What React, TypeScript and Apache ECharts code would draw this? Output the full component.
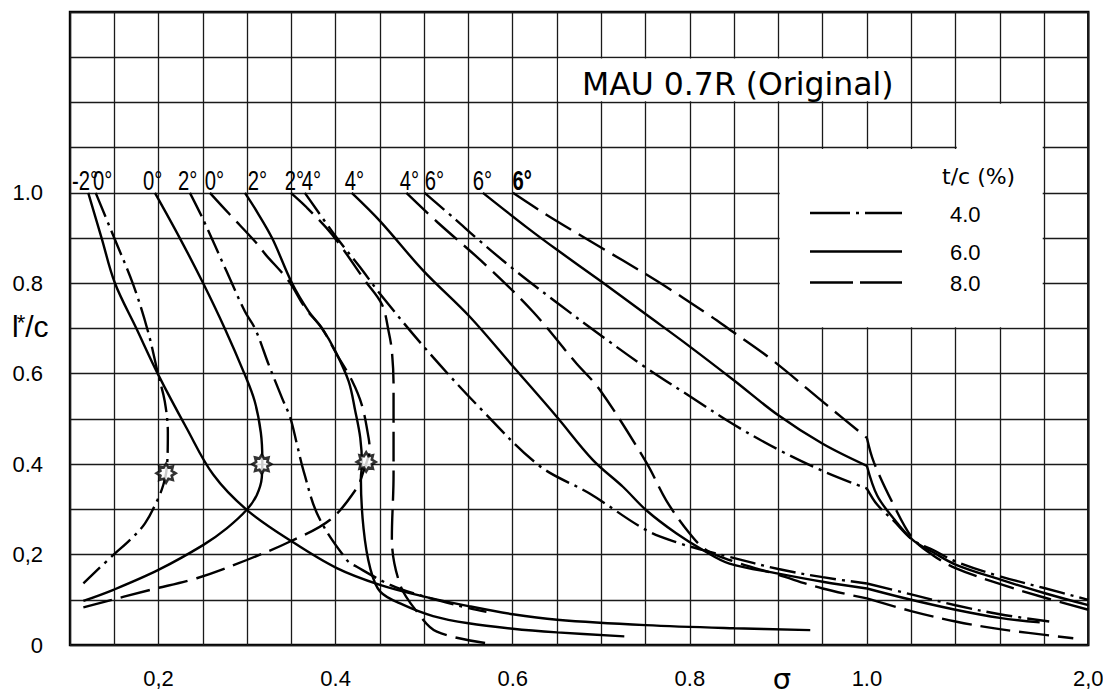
import { useEffect, useRef } from "react";
import * as echarts from "echarts";

// ---------- tick labels ----------
const xLabelSigma = [0.2, 0.4, 0.6, 0.8, 1.0, 2.0];
const xLabelText = ["0,2", "0.4", "0.6", "0.8", "1.0", "2,0"];
const yLabelValue = [0, 0.2, 0.4, 0.6, 0.8, 1.0];
const yLabelText = ["0", "0,2", "0.4", "0.6", "0.8", "1.0"];

// ---------- curves: [sigma, l*/c] ----------
// -2 deg, t/c 6.0
const m2_t6 = [[0.1206,1.0],[0.1357,0.90],[0.1508,0.80],[0.175,0.70],[0.1996,0.598],[0.2316,0.48],[0.2617,0.377],[0.2996,0.299],[0.3505,0.229],[0.4013,0.170],[0.45,0.133],[0.50,0.107],[0.55,0.086],[0.60,0.068],[0.65,0.056],[0.75,0.044],[0.85,0.037],[0.936,0.033]];
// 0 deg
const a0_t4 = [[0.129,1.0],[0.15,0.90],[0.1714,0.797],[0.188,0.694],[0.1996,0.598],[0.207,0.539],[0.2105,0.47],[0.21,0.41],[0.2085,0.38],[0.2055,0.355],[0.1998,0.325],[0.1847,0.269],[0.1678,0.2325],[0.149,0.1993],[0.1151,0.1365]];
const a0_t6 = [[0.1959,1.0],[0.224,0.90],[0.2504,0.80],[0.2748,0.70],[0.2974,0.598],[0.3086,0.539],[0.3155,0.47],[0.3172,0.41],[0.3166,0.37],[0.311,0.332],[0.2996,0.299],[0.277,0.258],[0.2507,0.2214],[0.1998,0.166],[0.149,0.122],[0.1151,0.0974]];
const a0_t8 = [[0.258,1.0],[0.2805,0.952],[0.3105,0.889],[0.3207,0.864],[0.347,0.805],[0.3658,0.745],[0.3846,0.70],[0.4015,0.642],[0.4184,0.585],[0.4297,0.53],[0.4372,0.458],[0.4385,0.43],[0.4353,0.406],[0.4315,0.384],[0.4239,0.347],[0.3938,0.277],[0.3486,0.229],[0.2996,0.188],[0.2431,0.1476],[0.1904,0.1218],[0.1151,0.0834]];
// 2 deg
const a2_t4 = [[0.2354,1.0],[0.2504,0.941],[0.2767,0.827],[0.2974,0.738],[0.3094,0.698],[0.3244,0.62],[0.3395,0.546],[0.3489,0.502],[0.3564,0.443],[0.3639,0.384],[0.3806,0.284],[0.4126,0.188],[0.4239,0.173],[0.4616,0.133],[0.4951,0.11],[0.5515,0.081],[0.5703,0.0735]];
const a2_t6 = [[0.2975,1.0],[0.3087,0.966],[0.3282,0.90],[0.3508,0.80],[0.3695,0.738],[0.3846,0.701],[0.3996,0.65],[0.4147,0.583],[0.4222,0.517],[0.4278,0.458],[0.4297,0.40],[0.4285,0.369],[0.4315,0.258],[0.439,0.17],[0.4503,0.118],[0.4766,0.0886],[0.51,0.064],[0.55,0.048],[0.60,0.036],[0.65,0.028],[0.726,0.019]];
const a2_t8 = [[0.3494,1.0],[0.3677,0.967],[0.3959,0.908],[0.4335,0.805],[0.4523,0.753],[0.4598,0.694],[0.4635,0.65],[0.4654,0.576],[0.4654,0.377],[0.4635,0.236],[0.4729,0.133],[0.4917,0.074],[0.5143,0.0295],[0.5708,0.004]];
// 4 deg
const a4_t4 = [[0.3652,1.0],[0.4015,0.90],[0.4274,0.836],[0.45,0.777],[0.5026,0.653],[0.5665,0.517],[0.6304,0.396],[0.6868,0.335],[0.7508,0.254],[0.7883,0.225],[0.8147,0.21],[0.8447,0.195],[0.90,0.168],[0.95,0.150],[1.0,0.136],[1.111,0.112],[1.25,0.088],[1.4286,0.068],[1.70,0.052]];
const a4_t6 = [[0.4182,1.0],[0.4504,0.937],[0.4989,0.828],[0.5515,0.726],[0.6004,0.616],[0.6492,0.506],[0.6906,0.409],[0.7244,0.35],[0.7508,0.298],[0.7846,0.247],[0.8147,0.21],[0.8447,0.18],[0.90,0.158],[0.95,0.14],[1.0,0.125],[1.111,0.10],[1.25,0.078],[1.4286,0.06],[1.64,0.05]];
const a4_t8 = [[0.4799,1.0],[0.515,0.935],[0.5703,0.839],[0.6229,0.737],[0.6718,0.623],[0.6981,0.565],[0.7508,0.404],[0.7733,0.32],[0.7996,0.247],[0.8184,0.21],[0.8447,0.188],[0.90,0.155],[0.95,0.125],[1.0,0.103],[1.111,0.075],[1.25,0.052],[1.4286,0.035],[1.873,0.015]];
// 6 deg
const a6_t4 = [[0.5005,1.0],[0.5365,0.939],[0.559,0.90],[0.6004,0.832],[0.65,0.757],[0.70,0.684],[0.75,0.614],[0.80,0.55],[0.85,0.487],[0.90,0.432],[0.95,0.385],[1.0,0.346],[1.024,0.31],[1.064,0.275],[1.116,0.232],[1.176,0.21],[1.25,0.185],[1.4286,0.152],[1.667,0.126],[2.0,0.10]];
const a6_t6 = [[0.5663,1.0],[0.617,0.922],[0.65,0.874],[0.70,0.804],[0.75,0.732],[0.80,0.660],[0.85,0.585],[0.90,0.508],[0.95,0.445],[1.0,0.396],[1.024,0.33],[1.064,0.28],[1.116,0.232],[1.176,0.205],[1.25,0.178],[1.4286,0.145],[1.667,0.115],[2.0,0.088]];
const a6_t8 = [[0.6002,1.0],[0.6361,0.954],[0.6868,0.894],[0.762,0.806],[0.8222,0.729],[0.8447,0.698],[0.8906,0.634],[0.9545,0.531],[1.0,0.458],[1.016,0.404],[1.064,0.31],[1.116,0.235],[1.176,0.198],[1.25,0.17],[1.4286,0.135],[1.667,0.105],[2.0,0.078]];

// star markers (noses of the 0 deg curves)
const starPoints = [[0.2085,0.38],[0.3166,0.40],[0.4345,0.405]];

// angle labels along l*/c = 1.0
const angleLabelText = ["-2°","0°","0°","2°","0°","2°","2°","4°","4°","4°","6°","6°","6°"];
const angleLabelSigma = [0.1023,0.126,0.1824,0.2219,0.2523,0.3008,0.3426,0.3618,0.4103,0.4723,0.5005,0.5547,0.5998];

// legend (t/c in %)
const legendNames = ["4.0", "6.0", "8.0"];

// ---------- helpers ----------
// linear in sigma up to 1.0, then linear in 1/sigma up to 2.0
const toAxis = (s: number) => (s <= 1 ? s : 1 + 0.5 * (1 - 1 / s));

const DASH_DOT = [26, 6, 3, 6];
const DASHED = [30, 9];
const LEGEND_DASH: (number[] | null)[] = [[40, 6, 3, 6], null, [43, 7]];

function splitAtOne(curve: number[][]) {
  const idx = curve.findIndex((p) => p[0] === 1.0);
  if (idx < 0 || idx === curve.length - 1) return [curve];
  return [curve.slice(0, idx + 1), curve.slice(idx)];
}

const starPath = (() => {
  const pts: string[] = [];
  for (let i = 0; i < 16; i++) {
    const r = i % 2 === 0 ? 10 : 6.4;
    const a = (Math.PI * i) / 8;
    pts.push(`${(10 + r * Math.sin(a)).toFixed(2)} ${(10 - r * Math.cos(a)).toFixed(2)}`);
  }
  return "path://M" + pts.join(" L") + " Z";
})();

function buildSeries() {
  const families = [
    { name: "4.0", type: DASH_DOT as any, curves: [a0_t4, a2_t4, a4_t4, a6_t4] },
    { name: "6.0", type: "solid" as any, curves: [m2_t6, a0_t6, a2_t6, a4_t6, a6_t6] },
    { name: "8.0", type: DASHED as any, curves: [a0_t8, a2_t8, a4_t8, a6_t8] },
  ];
  const out: any[] = [];
  families.forEach((f) => {
    f.curves.forEach((c) => {
      splitAtOne(c).forEach((part) => {
        out.push({
          type: "line",
          name: f.name,
          data: part.map(([s, l]) => [toAxis(s), l]),
          symbol: "none",
          showSymbol: false,
          smooth: 0.35,
          silent: true,
          z: 3,
          lineStyle: { color: "#000", width: 2.4, type: f.type },
        });
      });
    });
  });
  out.push({
    type: "scatter",
    name: "nose",
    data: starPoints.map(([s, l]) => [toAxis(s), l]),
    symbol: starPath,
    symbolSize: 19,
    silent: true,
    z: 5,
    itemStyle: { color: "#fff", borderColor: "#000", borderWidth: 2.6 },
  });
  return out;
}

function near(a: number, b: number) {
  return Math.abs(a - b) < 1e-6;
}

export default function App() {
  const ref = useRef<HTMLDivElement>(null);
  useEffect(() => {
    document.body.style.margin = "0";
    const chart = echarts.init(ref.current!, null, { renderer: "svg" });
    const labelFont = "'Liberation Sans', Arial, sans-serif";
    chart.setOption({
      animation: false,
      backgroundColor: "#fff",
      grid: {
        left: 70, right: 14.7, top: 12, bottom: 49,
        show: true, borderColor: "#000", borderWidth: 2.4, backgroundColor: "transparent",
        outerBoundsMode: "none",
      },
      xAxis: {
        type: "value", min: 0.1, max: 1.25, interval: 0.05,
        axisLine: { show: false }, axisTick: { show: false },
        splitLine: { show: true, lineStyle: { color: "#1a1a1a", width: 1.3 } },
        axisLabel: {
          margin: 22, color: "#000", fontSize: 22, fontFamily: labelFont,
          formatter: (v: number) => {
            const i = xLabelSigma.findIndex((s) => near(toAxis(s), v));
            return i >= 0 ? xLabelText[i] : "";
          },
        },
      },
      yAxis: {
        type: "value", min: 0, max: 1.4, interval: 0.1,
        axisLine: { show: false }, axisTick: { show: false },
        splitLine: { show: true, lineStyle: { color: "#1a1a1a", width: 1.3 } },
        axisLabel: {
          margin: 27, color: "#000", fontSize: 22, fontFamily: labelFont,
          formatter: (v: number) => {
            const i = yLabelValue.findIndex((s) => near(s, v));
            return i >= 0 ? yLabelText[i] : "";
          },
        },
      },
      series: buildSeries(),
    });

    const pu = (u: number, l: number) => chart.convertToPixel({ gridIndex: 0 }, [u, l]) as number[];
    const rectBetween = (u0: number, l0: number, u1: number, l1: number, extraBottom = 0) => {
      const [x0, y0] = pu(u0, l0);
      const [x1, y1] = pu(u1, l1);
      return {
        type: "rect", z: 1, silent: true,
        shape: { x: x0 + 1.3, y: y0 + 1.3, width: x1 - x0 - 2.6, height: y1 - y0 - 2.6 + extraBottom },
        style: { fill: "#fff" },
      };
    };
    const graphics: any[] = [
      rectBetween(0.65, 1.3, 1.05, 1.2),
      rectBetween(0.9, 1.1, 1.2, 0.7),
      rectBetween(1.1, 1.2, 1.2, 1.1, 4),
      {
        type: "text", z: 10, x: 582, y: 84, silent: true,
        style: { text: "MAU 0.7R (Original)", fontFamily: "'DejaVu Sans', sans-serif", fontSize: 31.5, fill: "#000", verticalAlign: "middle", align: "left" },
      },
      {
        type: "text", z: 10, x: 942, y: 176, silent: true,
        style: { text: "t/c (%)", fontFamily: "'DejaVu Sans', sans-serif", fontSize: 22, fill: "#000", verticalAlign: "middle", align: "left" },
      },
      {
        type: "text", z: 10, x: 782, y: 693, silent: true,
        style: { text: "σ", fontFamily: "'DejaVu Sans', sans-serif", fontSize: 29, fill: "#000", verticalAlign: "bottom", align: "center" },
      },
      {
        type: "text", z: 10, x: 12, y: 326, silent: true,
        style: {
          text: "{a|l}{b|*}{a|/c}", fill: "#000", verticalAlign: "middle", align: "left",
          rich: {
            a: { fontFamily: labelFont, fontSize: 30, fill: "#000" },
            b: { fontFamily: labelFont, fontSize: 22, fill: "#000", verticalAlign: "top", padding: [0, 0, 0, -2] },
          },
        },
      },
    ];
    // legend samples
    const legendY = [213, 251.5, 282.5];
    legendNames.forEach((name, i) => {
      graphics.push({
        type: "line", z: 10, silent: true,
        shape: { x1: 810, y1: legendY[i], x2: 902, y2: legendY[i] },
        style: { stroke: "#000", lineWidth: 2.4, lineDash: LEGEND_DASH[i] || undefined },
      });
      graphics.push({
        type: "text", z: 10, x: 950, y: legendY[i] + 1, silent: true,
        style: { text: name, fontFamily: labelFont, fontSize: 22, fill: "#000", verticalAlign: "middle", align: "left" },
      });
    });
    const [, yOne] = pu(0.5, 1.0);
    angleLabelText.forEach((t, i) => {
      const [x] = pu(toAxis(angleLabelSigma[i]), 1.0);
      graphics.push({
        type: "text", z: 10, x, y: yOne + 1, scaleX: 0.75, silent: true,
        style: {
          text: t, fontFamily: labelFont, fontSize: 27, fill: "#000",
          fontWeight: i === angleLabelText.length - 1 ? "bold" : "normal",
          verticalAlign: "bottom", align: "left",
        },
      });
    });
    chart.setOption({ graphic: graphics });
    return () => chart.dispose();
  }, []);
  return <div ref={ref} style={{ width: 1103, height: 694 }} />;
}
